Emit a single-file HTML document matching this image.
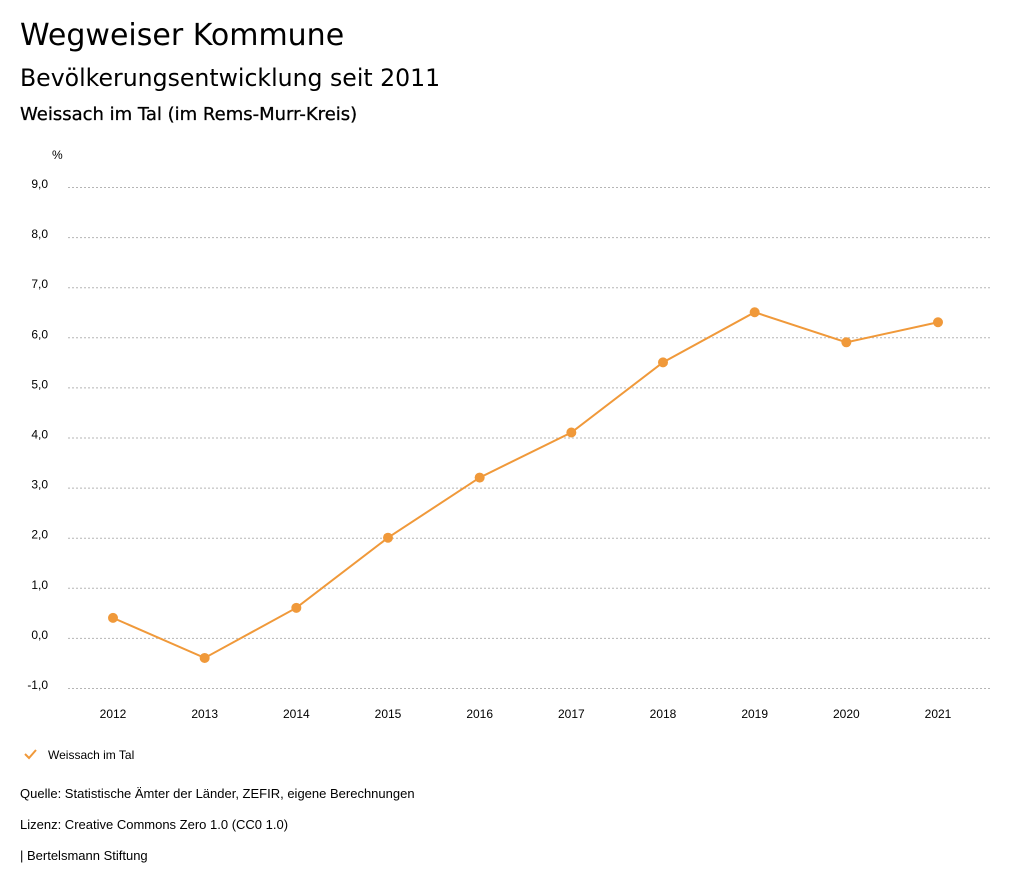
<!DOCTYPE html>
<html><head><meta charset="utf-8">
<style>
body{margin:0;background:#fff;font-family:"Liberation Sans",sans-serif;color:#000;}
#wrap{position:relative;width:1024px;height:888px;overflow:hidden}
.t{position:absolute;white-space:nowrap}
.dj{font-family:"DejaVu Sans",sans-serif}
</style></head>
<body><div id="wrap">
<div class="t dj" style="left:20px;top:18px;font-size:30px">Wegweiser Kommune</div>
<div class="t dj" style="left:20px;top:64px;font-size:23.6px">Bevölkerungsentwicklung seit 2011</div>
<div class="t dj" style="left:20px;top:104px;font-size:18px;-webkit-text-stroke:0.3px #000">Weissach im Tal (im Rems-Murr-Kreis)</div>
<svg id="chart" width="1024" height="888" style="position:absolute;left:0;top:0"></svg>
<div class="t" style="left:20px;top:786px;font-size:13px">Quelle: Statistische Ämter der Länder, ZEFIR, eigene Berechnungen</div>
<div class="t" style="left:20px;top:817px;font-size:13px">Lizenz: Creative Commons Zero 1.0 (CC0 1.0)</div>
<div class="t" style="left:20px;top:848px;font-size:13px">| Bertelsmann Stiftung</div>
</div>
<script>
const years=["2012","2013","2014","2015","2016","2017","2018","2019","2020","2021"];
const values=[0.4,-0.4,0.6,2.0,3.2,4.1,5.5,6.5,5.9,6.3];
const yTicks=[-1,0,1,2,3,4,5,6,7,8,9];
const seriesName="Weissach im Tal";
const C="#f0993a";
const svg=document.getElementById('chart');
const NS="http://www.w3.org/2000/svg";
function y(v){return 187+(9-v)*50.1;}
function x(i){return 113+i*(938-113)/9;}
function mk(t,a){const e=document.createElementNS(NS,t);for(const k in a)e.setAttribute(k,a[k]);svg.appendChild(e);return e;}
let u=mk('text',{x:52,y:159,'font-size':12,'font-family':'Liberation Sans'});u.textContent='%';


yTicks.forEach(v=>{
 const g=mk('line',{x1:68,x2:990,y1:y(v)+0.5,y2:y(v)+0.5,stroke:'#b5b5b5','stroke-dasharray':'2,2','stroke-width':1});
 
 
 const t=mk('text',{x:48,y:y(v)+1,'font-size':12,'text-anchor':'end','font-family':'Liberation Sans'});
 t.textContent=v.toFixed(1).replace('.',',');
 
 
});
years.forEach((yr,i)=>{
 const t=mk('text',{x:x(i),y:718,'font-size':12,'text-anchor':'middle','font-family':'Liberation Sans'});
 t.textContent=yr;
 
 
});
const p=mk('polyline',{points:values.map((v,i)=>x(i)+','+y(v)).join(' '),fill:'none',stroke:C,'stroke-width':2});


values.forEach((v,i)=>{
 const c=mk('circle',{cx:x(i),cy:y(v),r:5,fill:C});
 
 
});
const chk=mk('polyline',{points:'25,754 29,758 36,750',fill:'none',stroke:C,'stroke-width':2});


const lt=mk('text',{x:48,y:759,'font-size':12,'font-family':'Liberation Sans'});
lt.textContent=seriesName;


</script>
</body></html>
